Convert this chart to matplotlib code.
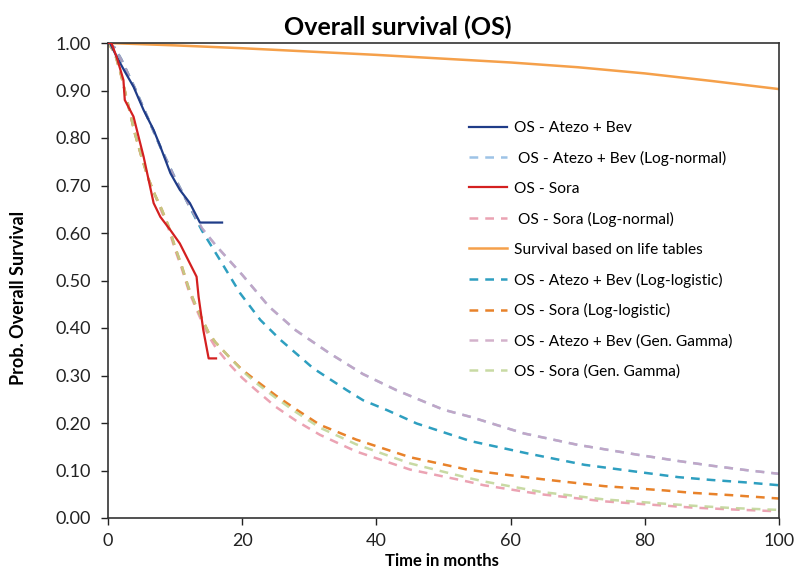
import matplotlib
matplotlib.use("Agg")
import matplotlib.pyplot as plt

plt.rcParams['font.family'] = ['Lato', 'DejaVu Sans']

# Kaplan-Meier curves
km_atezo_t = [0, 0.3, 1.3, 2.5, 3.8, 5.3, 6.8, 7.8, 9.3, 10.7, 12.2, 13.7, 17.0]
km_atezo_s = [1.0, 1.0, 0.971, 0.94, 0.908, 0.859, 0.817, 0.782, 0.726, 0.691, 0.663, 0.622, 0.622]

km_sora_t = [0, 0.5, 1.3, 2.3, 2.5, 3.8, 5.3, 6.8, 7.8, 9.3, 10.7, 12.2, 13.2, 13.5, 14.2, 15.0, 16.1]
km_sora_s = [1.0, 1.0, 0.97, 0.922, 0.88, 0.845, 0.761, 0.663, 0.634, 0.606, 0.578, 0.536, 0.508, 0.466, 0.396, 0.336, 0.336]

# Fitted curves, Atezo + Bev
atezo_t = [0, 1, 2, 4, 6, 8, 10, 12, 14, 16, 20, 24, 28, 33, 38, 43, 50, 54, 62, 70, 79, 85, 90, 95, 100]
atezo_lognormal = [1.0, 0.99, 0.965, 0.905, 0.84, 0.775, 0.715, 0.66, 0.61, 0.575, 0.512, 0.445, 0.395,
                   0.347, 0.303, 0.269, 0.228, 0.213, 0.178, 0.154, 0.133, 0.12, 0.11, 0.101, 0.093]
atezo_gengamma = [1.0, 0.99, 0.965, 0.905, 0.84, 0.775, 0.715, 0.66, 0.61, 0.575, 0.512, 0.445, 0.395,
                  0.347, 0.303, 0.269, 0.228, 0.213, 0.178, 0.154, 0.133, 0.12, 0.11, 0.101, 0.093]

atezo_ll_t = [0, 1, 2, 4, 6, 8, 10, 12, 14, 16.7, 19.7, 22.7, 25.7, 30.6, 35.6, 38, 41.6, 46, 54, 62.5, 71, 79,
              85, 90, 95, 100]
atezo_loglogistic = [1.0, 0.99, 0.965, 0.905, 0.84, 0.775, 0.715, 0.66, 0.605, 0.543, 0.473, 0.417, 0.375,
                     0.315, 0.269, 0.248, 0.227, 0.199, 0.162, 0.136, 0.112, 0.097, 0.086, 0.08, 0.075, 0.069]

# Fitted curves, Sora
sora_t = [0, 1, 2, 3, 4, 5, 6, 7, 8, 9, 10, 11, 12, 13, 14, 15, 16, 18, 20, 22, 25, 28, 31.6, 37, 45,
          53.5, 56, 64.5, 74, 83, 87, 93, 100]
sora_lognormal = [1.0, 0.98, 0.93, 0.87, 0.81, 0.76, 0.715, 0.68, 0.645, 0.61, 0.565, 0.525, 0.48, 0.445,
                  0.413, 0.383, 0.36, 0.325, 0.295, 0.27, 0.234, 0.205, 0.175, 0.14, 0.102, 0.077, 0.069,
                  0.05, 0.035, 0.026, 0.022, 0.018, 0.014]
sora_loglogistic = [1.0, 0.98, 0.93, 0.87, 0.81, 0.76, 0.715, 0.68, 0.65, 0.615, 0.57, 0.53, 0.485, 0.45,
                    0.42, 0.39, 0.37, 0.34, 0.312, 0.29, 0.258, 0.229, 0.196, 0.165, 0.128, 0.102, 0.097,
                    0.082, 0.067, 0.058, 0.053, 0.048, 0.041]
sora_gengamma = [1.0, 0.98, 0.93, 0.87, 0.81, 0.76, 0.715, 0.68, 0.65, 0.615, 0.57, 0.53, 0.485, 0.45,
                 0.42, 0.39, 0.37, 0.34, 0.31, 0.285, 0.253, 0.223, 0.19, 0.155, 0.115, 0.085, 0.077,
                 0.055, 0.039, 0.03, 0.026, 0.021, 0.017]

# General population survival
life_t = [0, 10, 20, 30, 40, 50, 60, 70, 80, 90, 100]
life_s = [1.0, 0.995, 0.989, 0.982, 0.975, 0.967, 0.959, 0.949, 0.936, 0.920, 0.903]

x_ticks = [0, 20, 40, 60, 80, 100]
y_ticks = [0.0, 0.1, 0.2, 0.3, 0.4, 0.5, 0.6, 0.7, 0.8, 0.9, 1.0]

fig = plt.figure(figsize=(7.97, 5.71), dpi=100)
ax = fig.add_axes([108 / 797, 53 / 571, 671 / 797, 475 / 571])

dash = (3.5, 2.8)
lw_d = 1.8

ax.plot(km_atezo_t, km_atezo_s, color='#1f3c88', lw=1.6, label='OS - Atezo + Bev', zorder=6)
ax.plot(atezo_t, atezo_lognormal, color='#9dc3e6', lw=lw_d, dashes=dash, label=' OS - Atezo + Bev (Log-normal)')
ax.plot(km_sora_t, km_sora_s, color='#d42020', lw=1.6, label='OS - Sora', zorder=6)
ax.plot(sora_t, sora_lognormal, color='#eba3b3', lw=lw_d, dashes=dash, label=' OS - Sora (Log-normal)')
ax.plot(life_t, life_s, color='#f5a04a', lw=1.8, label='Survival based on life tables')
ax.plot(atezo_ll_t, atezo_loglogistic, color='#2e9fc0', lw=lw_d, dashes=dash, label='OS - Atezo + Bev (Log-logistic)')
ax.plot(sora_t, sora_loglogistic, color='#e8822a', lw=lw_d, dashes=dash, label='OS - Sora (Log-logistic)')
ax.plot(atezo_t, atezo_gengamma, color='#c99fbf', lw=lw_d, dashes=dash, alpha=0.8,
        label='OS - Atezo + Bev (Gen. Gamma)')
ax.plot(sora_t, sora_gengamma, color='#bfd494', lw=lw_d, dashes=dash, alpha=0.85,
        label='OS - Sora (Gen. Gamma)')

ax.set_xlim(0, 100)
ax.set_ylim(0, 1.0)
ax.set_xticks(x_ticks)
ax.set_yticks(y_ticks)
ax.set_yticklabels(['%.2f' % v for v in y_ticks])
ax.tick_params(axis='both', direction='out', length=5, width=1, labelsize=13, colors='#222222')
ax.tick_params(axis='y', pad=7)
ax.tick_params(axis='x', pad=6)
for s in ax.spines.values():
    s.set_color('#333333')
    s.set_linewidth(1.2)

fig.text(398 / 797, 1 - 27 / 571, 'Overall survival (OS)', ha='center', va='center',
         fontsize=18, fontweight='bold')
fig.text(442 / 797, 18 / 571, 'Time in months', ha='center', va='top',
         fontsize=12, fontweight='bold')
fig.text(19 / 797, 1 - 298 / 571, 'Prob. Overall Survival', ha='center', va='center',
         rotation=90, fontsize=13, fontweight='bold')

fig.legend(loc='upper left', bbox_to_anchor=(469 / 797, 1 - 121 / 571), frameon=False,
           fontsize=11.2, labelspacing=1.02, handlelength=2.45, handletextpad=0.45,
           borderpad=0, borderaxespad=0)

fig.savefig('out.png', dpi=100)
